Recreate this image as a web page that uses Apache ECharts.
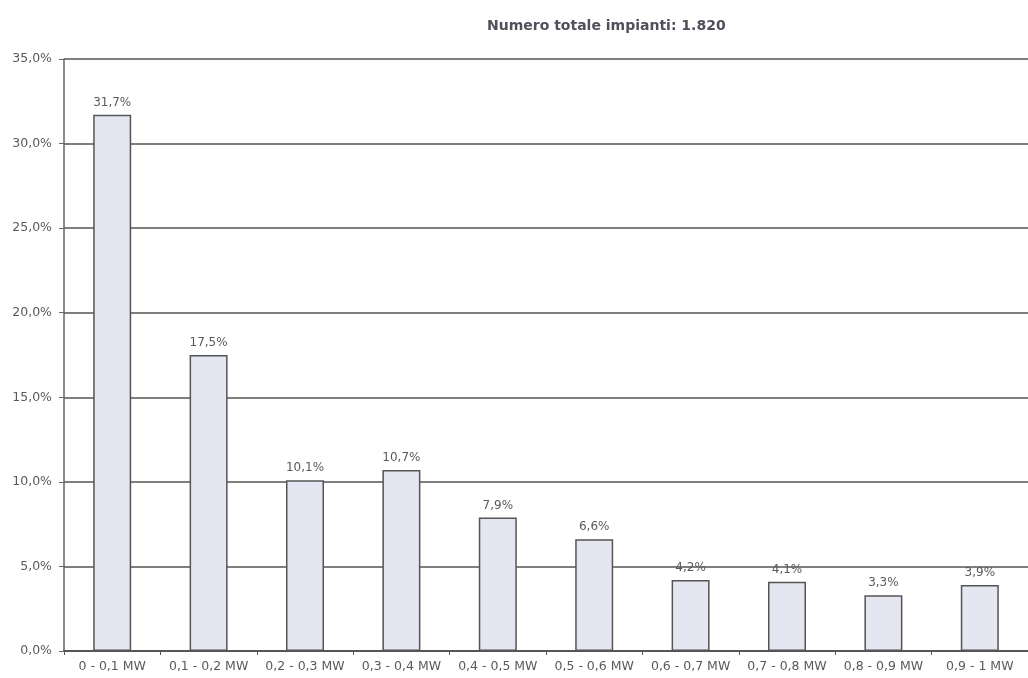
<!DOCTYPE html>
<html>
<head>
<meta charset="utf-8">
<script src="https://cdn.jsdelivr.net/npm/echarts@6/dist/echarts.min.js"></script>
<style>
  html, body { margin: 0; padding: 0; background: #fff; }
  #chart { width: 1028px; height: 678px; }
</style>
</head>
<body>
<div id="chart"></div>
<script>
const categories = [
  '0 - 0,1 MW', '0,1 - 0,2 MW', '0,2 - 0,3 MW', '0,3 - 0,4 MW', '0,4 - 0,5 MW',
  '0,5 - 0,6 MW', '0,6 - 0,7 MW', '0,7 - 0,8 MW', '0,8 - 0,9 MW', '0,9 - 1 MW'
]
const shares = [31.7, 17.5, 10.1, 10.7, 7.9, 6.6, 4.2, 4.1, 3.3, 3.9]
const titleText = 'Numero totale impianti: 1.820'

const fmt = (v) => v.toFixed(1).replace('.', ',') + '%'

const chart = echarts.init(document.getElementById('chart'))
chart.setOption({
  animation: false,
  textStyle: { fontFamily: 'DejaVu Sans, Verdana, sans-serif' },
  title: {
    text: titleText,
    left: 482,
    top: 14,
    textStyle: { fontSize: 14, fontWeight: 'bold', color: '#50505c' },
  },
  grid: { left: 64, top: 59, width: 975, height: 592 },
  xAxis: {
    type: 'category',
    data: categories,
    axisLine: { lineStyle: { color: '#555', width: 2 } },
    axisTick: { show: true, length: 4, lineStyle: { color: '#555' } },
    axisLabel: { color: '#5a5a5a', fontSize: 12.5, margin: 9, interval: 0 },
  },
  yAxis: {
    type: 'value',
    min: 0,
    max: 35,
    interval: 5,
    axisLine: { show: true, lineStyle: { color: '#666', width: 1.5 } },
    axisTick: { show: true, length: 5, lineStyle: { color: '#666' } },
    axisLabel: { color: '#5a5a5a', fontSize: 12.5, margin: 12, formatter: (v) => fmt(v) },
    splitLine: { lineStyle: { color: '#555', width: 1.5 } },
  },
  series: [
    {
      type: 'bar',
      data: shares,
      barWidth: 38,
      itemStyle: { color: '#e4e6f2', borderColor: '#555', borderWidth: 1.5 },
      label: {
        show: true,
        position: 'top',
        distance: 6,
        color: '#5a5a5a',
        fontSize: 12,
        formatter: (p) => fmt(p.value),
      },
    },
  ],
})
</script>
</body>
</html>
